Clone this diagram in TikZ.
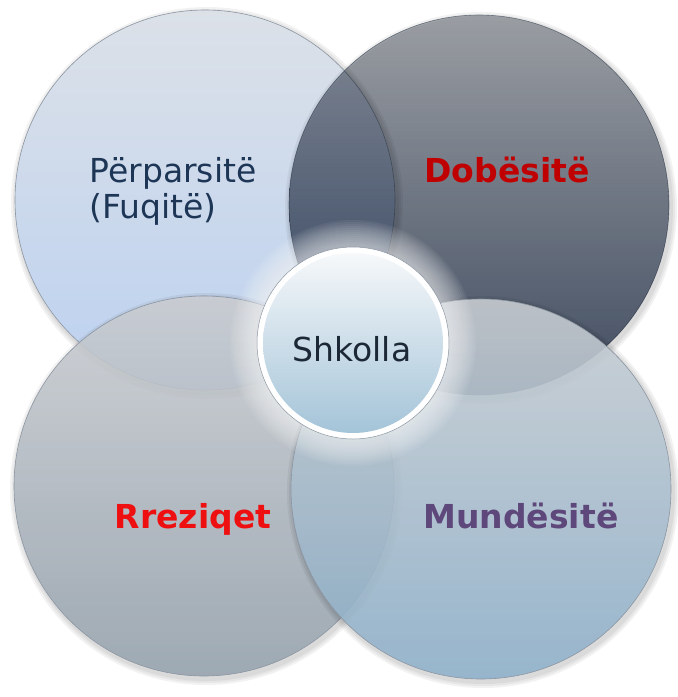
\documentclass[tikz,border=0pt]{standalone}
\usepackage{fontspec}
\setmainfont{DejaVu Sans}
\definecolor{tlTop}{HTML}{DCE1E8}
\definecolor{tlBot}{HTML}{BCD1F0}
\definecolor{trTop}{HTML}{B4B8BE}
\definecolor{trBot}{HTML}{4C5A72}
\definecolor{blTop}{HTML}{CDD0D4}
\definecolor{blBot}{HTML}{95A2AE}
\definecolor{brTop}{HTML}{CBD0D5}
\definecolor{brBot}{HTML}{8DB0CA}
\definecolor{ctTop}{HTML}{F6F8FA}
\definecolor{ctBot}{HTML}{A4C4D8}
\definecolor{rimCol}{HTML}{8C96A2}
\definecolor{navyText}{HTML}{1E3656}
\definecolor{darkText}{HTML}{1C2836}
\definecolor{redDark}{HTML}{C00000}
\definecolor{redBright}{HTML}{EE1010}
\definecolor{purpleText}{HTML}{5E477A}
\begin{document}
\begin{tikzpicture}[x=1pt,y=-1pt,
  bubble/.style={circle, inner sep=0pt, minimum size=380pt, draw=rimCol, line width=0.6pt},
  softshadow/.style={circle, inner sep=0pt, minimum size=#1, fill=black, fill opacity=0.05, draw=none},
  lbl/.style={font=\fontsize{33}{36}\selectfont, anchor=base},
  blbl/.style={font=\fontsize{33}{36}\selectfont\bfseries, anchor=base}]
\useasboundingbox (0,0) rectangle (678,697);

% top-left
\foreach \s in {384,388,392} \node[softshadow=\s pt] (tls\s) at (207,203) {};
\node[bubble, top color=tlTop, bottom color=tlBot] (tl) at (205,200) {};

% top-right (multiply over top-left)
\foreach \s in {384,388,392} \node[softshadow=\s pt] (trs\s) at (481,208) {};
\node[bubble, top color=trTop, bottom color=trBot, blend mode=multiply] (tr) at (479,205) {};

% bottom-left
\foreach \s in {384,388,392} \node[softshadow=\s pt] (bls\s) at (206,489) {};
\node[bubble, top color=blTop, bottom color=blBot, fill opacity=0.88] (bl) at (204,486) {};

% bottom-right
\foreach \s in {384,388,392} \node[softshadow=\s pt] (brs\s) at (483,492) {};
\node[bubble, top color=brTop, bottom color=brBot, fill opacity=0.88] (br) at (481,489) {};

% soft glow around centre
\foreach \s in {246,242,238,234,230,226,222,218,214,210,206,202,198} \node[circle, inner sep=0pt, minimum size=\s pt, fill=white, fill opacity=0.06] (glow\s) at (353,343) {};

% centre circle
\node[circle, inner sep=0pt, minimum size=192pt, fill=white, draw=rimCol, line width=0.5pt] (ctr) at (353,343) {};
\node[circle, inner sep=0pt, minimum size=180pt, top color=ctTop, bottom color=ctBot] (ctrin) at (353,343) {};

% labels
\node[lbl, anchor=base west, text=navyText] (tlA) at (86,182) {Përparsitë};
\node[lbl, anchor=base west, text=navyText] (tlB) at (86,218) {(Fuqitë)};
\node[blbl, text=redDark] (trT) at (507,182) {Dobësitë};
\node[blbl, text=redBright] (blT) at (193,528) {Rreziqet};
\node[blbl, text=purpleText] (brT) at (521,528) {Mundësitë};
\node[lbl, text=darkText] (ctT) at (352,361) {Shkolla};
\end{tikzpicture}
\end{document}
